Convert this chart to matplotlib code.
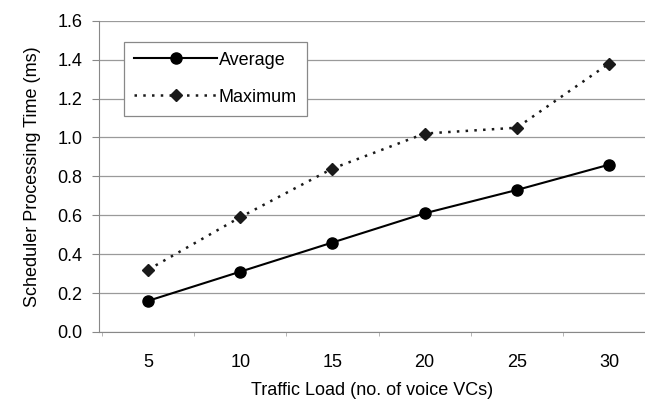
import matplotlib
matplotlib.use("Agg")
import matplotlib.pyplot as plt

plt.rcParams['font.family'] = ['Liberation Sans', 'DejaVu Sans']

# traffic load (voice VCs) and processing times (ms)
load = [5, 10, 15, 20, 25, 30]
average = [0.16, 0.31, 0.46, 0.61, 0.73, 0.86]
maximum = [0.32, 0.59, 0.84, 1.02, 1.05, 1.38]
yticks = [0.0, 0.2, 0.4, 0.6, 0.8, 1.0, 1.2, 1.4, 1.6]

fs = 13

fig = plt.figure(figsize=(6.45, 4.07), dpi=100)
ax = fig.add_axes([99/645, 75/407, 1 - 99/645, 311.3/407])

ax.plot(load, average, color='black', lw=1.5, marker='o', ms=8,
        label='Average', zorder=3)
ax.plot(load, maximum, color='#1a1a1a', lw=1.8, ls=(0, (1, 2.5)),
        marker='D', ms=6, label='Maximum', zorder=3)

ax.set_xlim(2.34, 31.95)
ax.set_ylim(0, 1.6)
ax.set_yticks(yticks)
ax.set_yticklabels([f'{v:.1f}' for v in yticks])
ax.set_xticks(load)
ax.set_xticks([2.5, 7.5, 12.5, 17.5, 22.5, 27.5], minor=True)
ax.tick_params(axis='x', which='major', length=0, pad=16, labelsize=fs)
ax.tick_params(axis='x', which='minor', length=3, color='#aaaaaa', direction='out')
ax.tick_params(axis='y', length=5, color='#888888', labelsize=fs, pad=7)

ax.grid(axis='y', color='#9a9a9a', lw=0.9)
ax.set_axisbelow(True)
for s in ['top', 'right']:
    ax.spines[s].set_visible(False)
ax.spines['left'].set_color('#888888')
ax.spines['bottom'].set_color('#888888')

ax.set_xlabel('Traffic Load (no. of voice VCs)', fontsize=fs, labelpad=8)
ax.set_ylabel('Scheduler Processing Time (ms)', fontsize=fs, labelpad=12)

leg = ax.legend(loc='upper left', bbox_to_anchor=(0.046, 0.932), borderaxespad=0,
                fontsize=fs, handlelength=4.6, handletextpad=0.1,
                fancybox=False, edgecolor='#888888', framealpha=1,
                borderpad=0.55, labelspacing=1.1)
leg.get_frame().set_linewidth(0.9)

fig.savefig('out.png', dpi=100)
